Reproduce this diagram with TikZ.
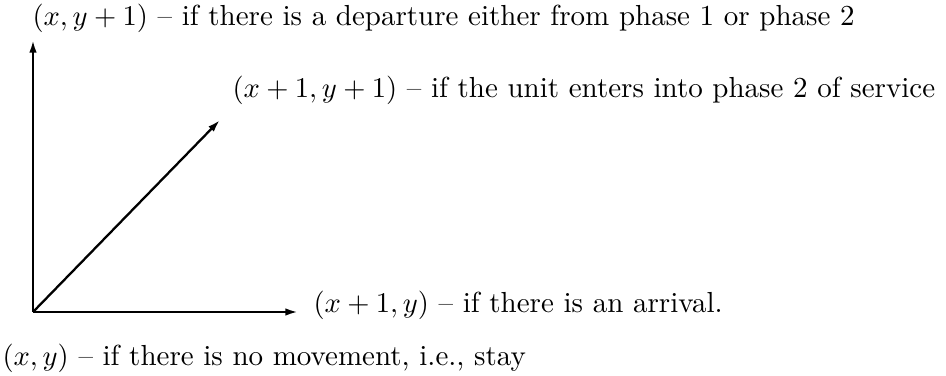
\documentclass[tikz,border=0pt]{standalone}
\usetikzlibrary{arrows.meta}
\begin{document}
\begin{tikzpicture}[x=0.35pt,y=-0.35pt,
  axis/.style={line width=0.8pt,-{Latex[length=4.4pt,width=2.6pt]}},
  lbl/.style={anchor=base west,inner sep=0pt,font=\fontsize{10.15}{12}\selectfont}]
\useasboundingbox (0,0) rectangle (946,376);
\coordinate (O) at (33,312);
\coordinate (V) at (33,40);
\coordinate (D) at (220,120);
\coordinate (H) at (298,312);
\draw[axis] (O) -- (V);
\draw[axis] (O) -- (D);
\draw[axis] (O) -- (H);
\node[lbl] (top) at (32,26) {$(x,y+1)$ -- if there is a departure either from phase 1 or phase 2};
\node[lbl] (diag) at (232,98) {$(x+1,y+1)$ -- if the unit enters into phase 2 of service};
\node[lbl] (right) at (313,313) {$(x+1,y)$ -- if there is an arrival.};
\node[lbl] (stay) at (2,365) {$(x,y)$ -- if there is no movement, i.e., stay};
\end{tikzpicture}
\end{document}
